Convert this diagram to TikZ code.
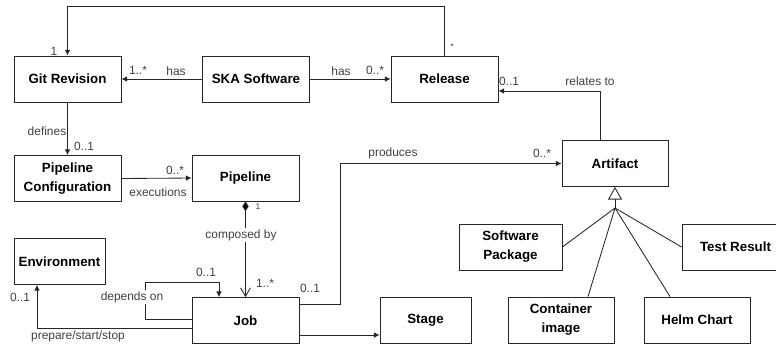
\documentclass[tikz,border=0pt]{standalone}
\usepackage{fontspec}
\setmainfont{Liberation Sans}
\usetikzlibrary{arrows.meta,calc}
\tikzset{
  box/.style={draw=black!85, line width=0.6pt, minimum width=2.675cm, minimum height=1.15cm,
    align=center, inner sep=1pt, font=\bfseries\fontsize{9.5}{13.5}\selectfont},
  lbl/.style={text=black!75, inner sep=0pt, font=\fontsize{8.5}{10}\selectfont},
  smalllbl/.style={text=black!75, inner sep=0pt, font=\fontsize{6}{7}\selectfont},
  conn/.style={draw=black!85, line width=0.6pt},
  arr/.style={conn, -{Latex[length=4pt,width=4pt]}},
}
\begin{document}
\begin{tikzpicture}[x=0.025cm, y=-0.025cm]
    \useasboundingbox (0,0) rectangle (776,345);
    % Draw the classes.
    \node[box] (git) at (67.5,79) {Git Revision};
    \node[box] (ska) at (256,79) {SKA Software};
    \node[box] (rel) at (444.5,79) {Release};
    \node[box] (pconf) at (67.5,178.5) {Pipeline\\Configuration};
    \node[box] (pipe) at (245.5,178) {Pipeline};
    \node[box, minimum width=2.275cm] (env) at (59.5,261.5) {Environment};
    \node[box] (job) at (245.5,320.5) {Job};
    \node[box, minimum width=2.275cm] (stage) at (425.5,320) {Stage};
    \node[box, minimum width=2.65cm] (art) at (615,163.5) {Artifact};
    \node[box, minimum width=2.575cm] (spk) at (510.5,247) {Software\\Package};
    \node[box] (test) at (735.5,247) {Test Result};
    \node[box, minimum width=2.65cm] (cont) at (561,320) {Container\\image};
    \node[box, minimum width=2.65cm] (helm) at (697,320) {Helm Chart};

    % Draw the associations.
    \draw[arr] (rel.north) -- ++(0,-49) -| (git.north);
    \draw[arr] (ska.west) -- (git.east);
    \draw[arr] (ska.east) -- (rel.west);
    \draw[arr] (git.south) -- (pconf.north);
    \draw[arr] (pconf.east) -- (pipe.west);
    \draw[conn, {Diamond[length=7pt,width=4.5pt,fill=black]}-{Straight Barb[length=6pt,width=7pt]}] (pipe.south) -- (job.north);
    \draw[arr] ($(job.west)+(0,-1.5)$) -| (145,282) -| ($(job.north)+(-26.5,0)$);
    \draw[arr] ($(job.west)+(0,7.5)$) -| ($(env.south)+(-22.5,0)$);
    \draw[arr] ($(job.east)+(0,14.5)$) coordinate (js) -- (js -| stage.west);
    \draw[arr] ($(job.east)+(0,-16.5)$) -- ++(41,0) |- (art.west);
    \draw[arr] ($(art.north)+(-15,0)$) |- ($(rel.east)+(0,12)$);

    % Draw the generalisation of the artifacts.
    \coordinate (gen) at (615,208);
    \draw[conn, -{Triangle[open,length=9pt,width=10pt]}] (gen) -- (art.south);
    \draw[conn] (spk.east) -- (gen) -- ($(cont.north)+(27,0)$);
    \draw[conn] (gen) -- ($(helm.north)+(-27,0)$);
    \draw[conn] (gen) -- (test.west);

    % Draw the role names and multiplicities.
    \node[lbl] (mgit) at (54,51) {1};
    \node[smalllbl] (mrel) at (452,47) {*};
    \node[lbl] (mska1) at (138,70) {1..*};
    \node[lbl] (has1) at (176,71) {has};
    \node[lbl] (has2) at (341,71) {has};
    \node[lbl] (mska2) at (375,70) {0..*};
    \node[lbl] (defines) at (47,131) {defines};
    \node[lbl] (mdef) at (84,146) {0..1};
    \node[lbl] (mexec) at (175,170) {0..*};
    \node[lbl] (exec) at (158,192) {executions};
    \node[smalllbl] (mcomp1) at (258,207) {1};
    \node[lbl, fill=white, inner sep=1pt] (comp) at (241,235) {composed by};
    \node[lbl] (mdep) at (206,272) {0..1};
    \node[lbl] (mcomp2) at (265,283) {1..*};
    \node[lbl] (mprod1) at (310,288) {0..1};
    \node[lbl, fill=white, inner sep=1pt] (dep) at (132,297) {depends on};
    \node[lbl] (menv) at (20,297) {0..1};
    \node[lbl] (prep) at (78,336) {prepare/start/stop};
    \node[lbl] (prod) at (393,153) {produces};
    \node[lbl] (mprod2) at (542,153) {0..*};
    \node[lbl] (mrelto) at (509,81) {0..1};
    \node[lbl] (relto) at (590,81) {relates to};
\end{tikzpicture}
\end{document}
